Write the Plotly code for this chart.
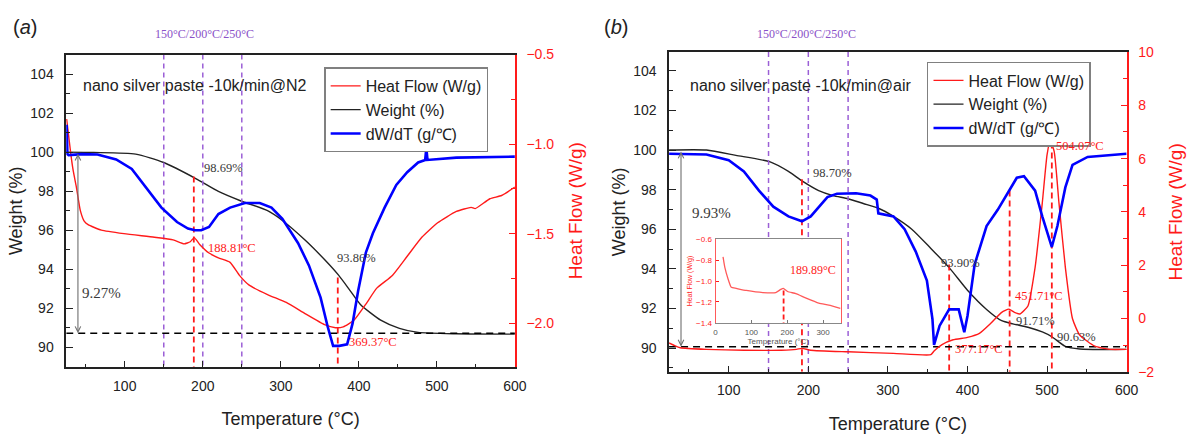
import plotly.graph_objects as go

SANS = "Liberation Sans, Arial, sans-serif"
SERIF = "Liberation Serif, Times New Roman, serif"
RED = "#ff1a1a"
BLUE = "#0000ff"
BLACK = "#222222"
PURPLE = "#9b5fd6"
GREY_TXT = "#3a3a3a"

# ---------------- panel (a): nano silver paste in N2 ----------------
T_w_a = [25, 60, 114, 150, 191, 220, 249, 283, 302, 331, 356, 374, 389, 402, 428, 452, 476, 525, 600]
W_a = [100.0, 99.98, 99.9, 99.47, 98.65, 97.99, 97.5, 97.0, 96.5, 95.5, 94.5, 93.7, 92.9, 92.2, 91.4,
       90.98, 90.77, 90.70, 90.68]

T_hf_a = [25.5, 28, 31, 34, 38, 43, 48, 53, 70, 99, 138, 162, 176, 184, 189, 196, 208, 220, 235, 247,
          259, 283, 307, 331, 356, 370, 380, 394, 409, 423, 443, 462, 481, 501, 525, 544, 549, 568, 583, 600]
HF_a = [-0.86, -0.95, -1.06, -1.15, -1.24, -1.37, -1.43, -1.45, -1.48, -1.50, -1.52, -1.535, -1.557,
        -1.545, -1.522, -1.56, -1.608, -1.635, -1.66, -1.733, -1.786, -1.84, -1.884, -1.946, -2.008,
        -2.025, -2.02, -1.982, -1.893, -1.804, -1.733, -1.626, -1.519, -1.439, -1.376, -1.353, -1.36,
        -1.305, -1.287, -1.24]

T_d_a = [25.5, 26.5, 28, 45, 65, 89, 109, 128, 147, 167, 181, 190, 198, 208, 220, 235, 254, 273, 288,
         302, 322, 336, 351, 360, 367, 375, 385, 392, 399, 409, 418, 433, 448, 462, 476, 485, 486.5,
         488, 525, 600]
D_a = [101.4, 99.9, 99.85, 99.9, 99.88, 99.63, 99.14, 98.15, 97.16, 96.42, 96.09, 96.0, 96.0, 96.17,
       96.83, 97.16, 97.4, 97.4, 97.16, 96.59, 95.35, 94.2, 92.55, 91.07, 90.08, 90.08, 90.16, 91.23,
       92.88, 94.86, 95.85, 97.16, 98.32, 98.97, 99.47, 99.6, 100.2, 99.6, 99.72, 99.77]

marks_T_a = [188.5, 373]
marks_W_a = [98.75, 93.58]
final_W_a = 90.73
loss_a = "9.27%"

# ---------------- panel (b): nano silver paste in air ----------------
T_w_b = [25, 72, 109, 152, 175, 192, 213, 231, 250, 269, 288, 307, 330, 354, 377, 400, 424, 443, 457,
         476, 494, 506, 523, 541, 600]
W_b = [100.0, 100.0, 99.73, 99.4, 98.92, 98.44, 97.95, 97.7, 97.54, 97.3, 97.06, 96.65, 96.0, 95.03,
       94.06, 92.92, 91.95, 91.38, 91.22, 91.05, 90.81, 90.57, 90.08, 89.95, 89.93]

T_hf_b = [25, 32, 39, 72, 119, 166, 185, 192, 203, 250, 307, 354, 358, 368, 382, 400, 415, 429, 443,
          452, 459, 466, 476, 485, 494, 500, 504, 509, 515, 523, 532, 541, 560, 579, 600]
HF_b = [-0.92, -1.02, -1.10, -1.16, -1.19, -1.19, -1.16, -1.12, -1.19, -1.25, -1.31, -1.36, -1.22,
        -0.98, -0.80, -0.71, -0.56, -0.19, 0.23, 0.35, 0.23, 0.17, 0.47, 1.92, 4.33, 6.14, 6.68, 6.26,
        4.33, 1.92, -0.01, -0.62, -1.04, -1.16, -1.16]

T_d_b = [25, 72, 100, 119, 138, 156, 175, 192, 203, 213, 224, 236, 260, 278, 286, 288, 307, 321, 335,
         349, 356, 358, 365, 377, 389, 396, 400, 409, 424, 438, 452, 462, 471, 485, 494, 506, 513, 523,
         532, 551, 600]
D_b = [99.81, 99.77, 99.49, 98.92, 97.95, 97.14, 96.65, 96.4, 96.65, 97.14, 97.62, 97.79, 97.82, 97.7,
       97.5, 96.8, 96.65, 96.0, 94.87, 93.41, 91.46, 90.16, 91.13, 91.95, 91.95, 90.8, 91.62, 94.22,
       96.16, 96.98, 97.95, 98.6, 98.68, 97.95, 96.65, 95.1, 96.16, 98.11, 99.25, 99.65, 99.81]

marks_T_b = [192, 377, 453, 506]
marks_W_b = [98.52, 94.22, 97.95, 100.38]
final_W_b = 90.07
loss_b = "9.93%"

# inset of panel (b): heat flow 0-350 C
T_in = [21, 26, 35, 44, 58, 86, 132, 168, 182, 189, 201, 224, 251, 288, 316, 348]
HF_in = [-0.77, -0.87, -0.98, -1.06, -1.07, -1.09, -1.11, -1.11, -1.08, -1.07, -1.10, -1.12, -1.16,
         -1.21, -1.23, -1.26]
mark_T_in = 189.89
mark_HF_in = -1.09

iso_T = [150, 200, 250]

X_RANGE = [25, 600]
W_RANGE_A = [89.0, 105.0]
HF_RANGE_A = [-2.244, -0.5]
W_RANGE_B = [88.8, 104.95]
HF_RANGE_B = [-2.0, 10.0]
IN_X_RANGE = [0, 350]
IN_Y_RANGE = [-1.4, -0.6]


def vlines(xs, tops, bottom):
    X, Y = [], []
    for x, t in zip(xs, tops):
        X += [x, x, None]
        Y += [t, bottom, None]
    return X, Y


fig = go.Figure()


def add_panel(xa, yw, yh, yd, leg, Tw, W, Th, H, Td, D, mT, mW, finalW, wr):
    fig.add_trace(go.Scatter(x=Tw, y=W, name="Weight (%)", mode="lines",
                             line=dict(color=BLACK, width=1.4, shape="spline", smoothing=0.6),
                             xaxis=xa, yaxis=yw, legend=leg, legendrank=2))
    # purple isothermal markers
    px_, py_ = vlines(iso_T, [wr[1]] * len(iso_T), wr[0])
    fig.add_trace(go.Scatter(x=px_, y=py_, mode="lines", showlegend=False, hoverinfo="skip",
                             line=dict(color=PURPLE, width=1.5, dash="5px,4px"),
                             xaxis=xa, yaxis=yw))
    # red peak markers
    rx, ry = vlines(mT, mW, wr[0])
    fig.add_trace(go.Scatter(x=rx, y=ry, mode="lines", showlegend=False, hoverinfo="skip",
                             line=dict(color=RED, width=1.8, dash="6px,4px"),
                             xaxis=xa, yaxis=yw))
    # final weight dashed line
    fig.add_trace(go.Scatter(x=X_RANGE, y=[finalW, finalW], mode="lines", showlegend=False,
                             hoverinfo="skip", line=dict(color="black", width=1.5, dash="7px,5px"),
                             xaxis=xa, yaxis=yw))
    fig.add_trace(go.Scatter(x=Th, y=H, name="Heat Flow (W/g)", mode="lines",
                             line=dict(color=RED, width=1.4, shape="spline", smoothing=0.5),
                             xaxis=xa, yaxis=yh, legend=leg, legendrank=1))
    fig.add_trace(go.Scatter(x=Td, y=D, name="dW/dT (g/℃)", mode="lines",
                             line=dict(color=BLUE, width=2.6),
                             xaxis=xa, yaxis=yd, legend=leg, legendrank=3))


add_panel("x", "y", "y2", "y3", "legend", T_w_a, W_a, T_hf_a, HF_a, T_d_a, D_a,
          marks_T_a, marks_W_a, final_W_a, W_RANGE_A)
add_panel("x2", "y4", "y5", "y6", "legend2", T_w_b, W_b, T_hf_b, HF_b, T_d_b, D_b,
          marks_T_b, marks_W_b, final_W_b, W_RANGE_B)

# inset traces
fig.add_trace(go.Scatter(x=T_in, y=HF_in, mode="lines", showlegend=False,
                         line=dict(color="#ff5a5a", width=1.3, shape="spline", smoothing=0.5),
                         xaxis="x3", yaxis="y7"))
fig.add_trace(go.Scatter(x=[mark_T_in, mark_T_in], y=[mark_HF_in, IN_Y_RANGE[0]], mode="lines",
                         showlegend=False, line=dict(color=RED, width=1.8, dash="5px,3px"),
                         xaxis="x3", yaxis="y7"))

W, H = 1191, 434
dom_a_x = [65 / W, 519 / W]
dom_a_y = [1 - 372.7 / H, 1 - 48.3 / H]
dom_b_x = [675 / W, 1138 / W]
dom_b_y = [1 - 377.7 / H, 1 - 45.7 / H]
dom_in_x = [722 / W, 849 / W]
dom_in_y = [1 - 327 / H, 1 - 240 / H]


def xaxis_cfg(domain, anchor):
    return dict(domain=domain, anchor=anchor, range=X_RANGE, tick0=0, dtick=100,
                ticks="inside", ticklen=6, tickwidth=1.3, tickcolor=BLACK,
                showline=True, linecolor=BLACK, linewidth=1.5, mirror=True,
                showgrid=False, zeroline=False, ticklabelstandoff=5,
                tickfont=dict(family=SANS, size=14, color=BLACK),
                minor=dict(ticks="inside", ticklen=3, dtick=50, tick0=0, tickcolor=BLACK),
                title=dict(text="Temperature (°C)", standoff=20,
                           font=dict(family=SANS, size=18, color=BLACK)))


def wax_cfg(domain, anchor, rng):
    return dict(domain=domain, anchor=anchor, range=rng, tick0=0, dtick=2,
                ticks="inside", ticklen=7, tickwidth=1.3, tickcolor=BLACK,
                showline=True, linecolor=BLACK, linewidth=1.5,
                showgrid=False, zeroline=False, ticklabelstandoff=8,
                tickfont=dict(family=SANS, size=14, color=BLACK),
                minor=dict(ticks="inside", ticklen=4, dtick=1, tick0=0, tickcolor=BLACK),
                title=dict(text="Weight (%)", standoff=3,
                           font=dict(family=SANS, size=18, color=BLACK)))


def hax_cfg(over, anchor, rng, dtick, fmt):
    return dict(overlaying=over, anchor=anchor, side="right", range=rng, tick0=0, dtick=dtick,
                tickformat=fmt, ticks="inside", ticklen=6, tickwidth=1.3, tickcolor=RED,
                showline=True, linecolor=RED, linewidth=1.5,
                showgrid=False, zeroline=False, ticklabelstandoff=7,
                tickfont=dict(family=SANS, size=14, color=RED),
                minor=dict(ticks="inside", ticklen=4, dtick=dtick / 2, tick0=0, tickcolor=RED),
                title=dict(text="Heat Flow (W/g)", standoff=15,
                           font=dict(family=SANS, size=19, color=RED)))


legend_common = dict(xanchor="left", yanchor="top", bgcolor="white", bordercolor="#808080",
                     borderwidth=1.5, font=dict(family=SANS, size=16, color=BLACK),
                     tracegroupgap=0, itemwidth=30)

fig.update_layout(
    width=W, height=H, margin=dict(l=0, r=0, t=0, b=0),
    paper_bgcolor="white", plot_bgcolor="white",
    xaxis=xaxis_cfg(dom_a_x, "y"),
    yaxis=wax_cfg(dom_a_y, "x", W_RANGE_A),
    yaxis2=hax_cfg("y", "x", HF_RANGE_A, 0.5, ".1f"),
    yaxis3=dict(overlaying="y", anchor="x", range=W_RANGE_A, visible=False),
    xaxis2=xaxis_cfg(dom_b_x, "y4"),
    yaxis4=wax_cfg(dom_b_y, "x2", W_RANGE_B),
    yaxis5=hax_cfg("y4", "x2", HF_RANGE_B, 2, "d"),
    yaxis6=dict(overlaying="y4", anchor="x2", range=W_RANGE_B, visible=False),
    xaxis3=dict(domain=dom_in_x, anchor="y7", range=IN_X_RANGE, tick0=0, dtick=100,
                ticks="inside", ticklen=3, tickcolor="#777", showline=True, linecolor="#888",
                linewidth=1, mirror=True, showgrid=False, zeroline=False, ticklabelstandoff=1,
                tickfont=dict(family=SANS, size=8, color="#555"),
                title=dict(text="Temperature (°C)", standoff=2,
                           font=dict(family=SANS, size=8, color="#555"))),
    yaxis7=dict(domain=dom_in_y, anchor="x3", range=IN_Y_RANGE, tick0=0, dtick=0.2,
                tickformat=".1f", ticks="inside", ticklen=3, tickcolor=RED, showline=True,
                linecolor="#ff5a5a", linewidth=1, mirror=True, showgrid=False, zeroline=False,
                ticklabelstandoff=1, tickfont=dict(family=SANS, size=8, color=RED),
                title=dict(text="Heat Flow (W/g)", standoff=2,
                           font=dict(family=SANS, size=7, color=RED))),
    legend=dict(x=326 / W, y=1 - 61.7 / H, **legend_common),
    legend2=dict(x=936 / W, y=1 - 56 / H, **legend_common),
    showlegend=True,
)


def ann(text, x, y, xr, yr, color=GREY_TXT, size=12.5, family=SERIF, xanchor="center"):
    fig.add_annotation(text=text, x=x, y=y, xref=xr, yref=yr, showarrow=False,
                       font=dict(family=family, size=size, color=color), xanchor=xanchor,
                       yanchor="middle")


# panel (a) texts
ann("nano silver paste -10k/min@N2", 43.4, 103.43, "x", "y", BLACK, 16, SANS, "left")
ann("98.69%", 226, 99.2, "x", "y")
ann("188.81°C", 237, 95.1, "x", "y", RED)
ann("93.86%", 397, 94.57, "x", "y")
ann("369.37°C", 418, 90.3, "x", "y", RED)
ann(loss_a, 70, 92.8, "x", "y", GREY_TXT, 15)
# panel (b) texts
ann("nano silver paste -10k/min@air", 48.6, 103.27, "x2", "y4", BLACK, 16, SANS, "left")
ann("98.70%", 230, 98.84, "x2", "y4")
ann("93.90%", 391, 94.3, "x2", "y4")
ann("377.17°C", 415, 89.96, "x2", "y4", RED)
ann("451.71°C", 490, 92.64, "x2", "y4", RED)
ann("91.71%", 485, 91.35, "x2", "y4")
ann("90.63%", 537, 90.57, "x2", "y4")
ann("504.07°C", 541, 100.2, "x2", "y4", RED)
ann(loss_b, 78, 96.8, "x2", "y4", GREY_TXT, 15)
ann("189.89°C", 271, -0.89, "x3", "y7", RED, 12)

# weight-loss double arrows
for xr, yr, fw in [("x", "y", final_W_a), ("x2", "y4", final_W_b)]:
    fig.add_annotation(x=40, y=fw, ax=40, ay=100, xref=xr, yref=yr, axref=xr, ayref=yr,
                       text="", showarrow=True, arrowhead=5, startarrowhead=5,
                       arrowside="end+start", arrowsize=1, arrowwidth=1.1, arrowcolor="#707070",
                       standoff=0, startstandoff=0)

# panel labels and isotherm headers
for txt, cx in [("(<i>a</i>)", 23), ("(<i>b</i>)", 621)]:
    fig.add_annotation(text=txt, x=cx / W, y=1 - 20 / H, xref="paper", yref="paper",
                       showarrow=False, xanchor="center", yanchor="middle",
                       font=dict(family=SANS, size=20, color=BLACK))
for cx in [205, 814]:
    fig.add_annotation(text="150°C/200°C/250°C", x=cx / W, y=1 - 27 / H, xref="paper",
                       yref="paper", showarrow=False, xanchor="center", yanchor="middle",
                       font=dict(family=SERIF, size=12, color="#8a50c8"))

fig.write_html("out.html")
